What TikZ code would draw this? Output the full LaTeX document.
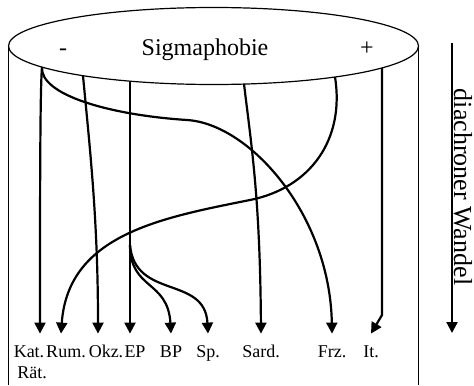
\documentclass[tikz,border=0pt]{standalone}
\usepackage{fontspec}
\setmainfont{Liberation Serif}
\usetikzlibrary{arrows.meta,positioning,shapes.geometric}

\begin{document}
\begin{tikzpicture}[
    x=0.5pt, y=-0.5pt,
    >={Triangle[length=5.5pt,width=5.5pt]},
    frame_line/.style={line width=0.6pt},
    top_text/.style={font=\fontsize{12}{14}\selectfont, anchor=base},
    lang_node/.style={font=\fontsize{9}{10}\selectfont, text height=6pt, inner xsep=1pt, inner ysep=5.5pt, anchor=base},
    flow_edge/.style={->, line width=1.1pt}
]
\useasboundingbox (0,0) rectangle (474,385);

% --- NODES ---
\node[ellipse, draw, frame_line, minimum width=205pt, minimum height=38.5pt, inner sep=0pt, outer sep=0pt] (sigma) at (213.5,46) {};
\node[top_text] (minus) at (63,55) {-};
\node[top_text] (title) at (205,55) {Sigmaphobie};
\node[top_text] (plus) at (367,55) {+};

\node[lang_node] (kat) at (29,357) {Kat.};
\node[lang_node] (rum) at (66,357) {Rum.};
\node[lang_node] (okz) at (106,357) {Okz.};
\node[lang_node] (ep) at (135,357) {EP};
\node[lang_node] (bp) at (171,357) {BP};
\node[lang_node] (sp) at (208,357) {Sp.};
\node[lang_node] (sard) at (261,357) {Sard.};
\node[lang_node] (frz) at (332,357) {Frz.};
\node[lang_node] (it) at (371,357) {It.};
\node[lang_node, anchor=base west] (raet) at (15,378) {Rät.};

\node[font=\fontsize{13}{15}\selectfont, rotate=-90] (wandel) at (463,187) {diachroner Wandel};

% start points on the rim of the ellipse
\coordinate (s_kat) at (42,67.2);
\coordinate (s_okz) at (83,75.8);
\coordinate (s_ep) at (130,81.2);
\coordinate (s_sard) at (244,84);
\coordinate (s_rum) at (335,77);
\coordinate (s_it) at (382,67.8);
\coordinate (ep_fork) at (130,245);
\coordinate (it_bend) at (382,315);
\coordinate (time_top) at (452,43);
\coordinate (time_end) at (452,333);
\coordinate (cyl_base) at (0,385);

% --- EDGES ---
\draw[frame_line] (sigma.west) -- (sigma.west |- cyl_base);
\draw[frame_line] (sigma.east) -- (sigma.east |- cyl_base);

\draw[flow_edge] (s_kat) .. controls (40,90) and (40,200) .. ([xshift=5.5pt]kat.north);
\draw[flow_edge] (s_kat) .. controls (40,95) and (110,115) .. (187,120) .. controls (250,124) and (330,215) .. (frz.north);
\draw[flow_edge] (s_okz) .. controls (90,150) and (98,220) .. ([xshift=-4pt]okz.north);
\draw[flow_edge] (s_ep) -- ([xshift=-2.5pt]ep.north);
\draw[flow_edge] (ep_fork) .. controls (130,290) and (168,280) .. (bp.north);
\draw[flow_edge] (ep_fork) .. controls (135,300) and (205,275) .. (sp.north);
\draw[flow_edge] (s_sard) .. controls (252,150) and (260,200) .. (sard.north);
\draw[flow_edge] (s_rum) .. controls (345,140) and (310,188) .. (250,200) .. controls (160,218) and (68,235) .. ([xshift=-2.5pt]rum.north);
\draw[flow_edge] (s_it) -- (it_bend) -- (it.north);

% time axis
\draw[flow_edge] (time_top) -- (time_end);

\end{tikzpicture}
\end{document}
